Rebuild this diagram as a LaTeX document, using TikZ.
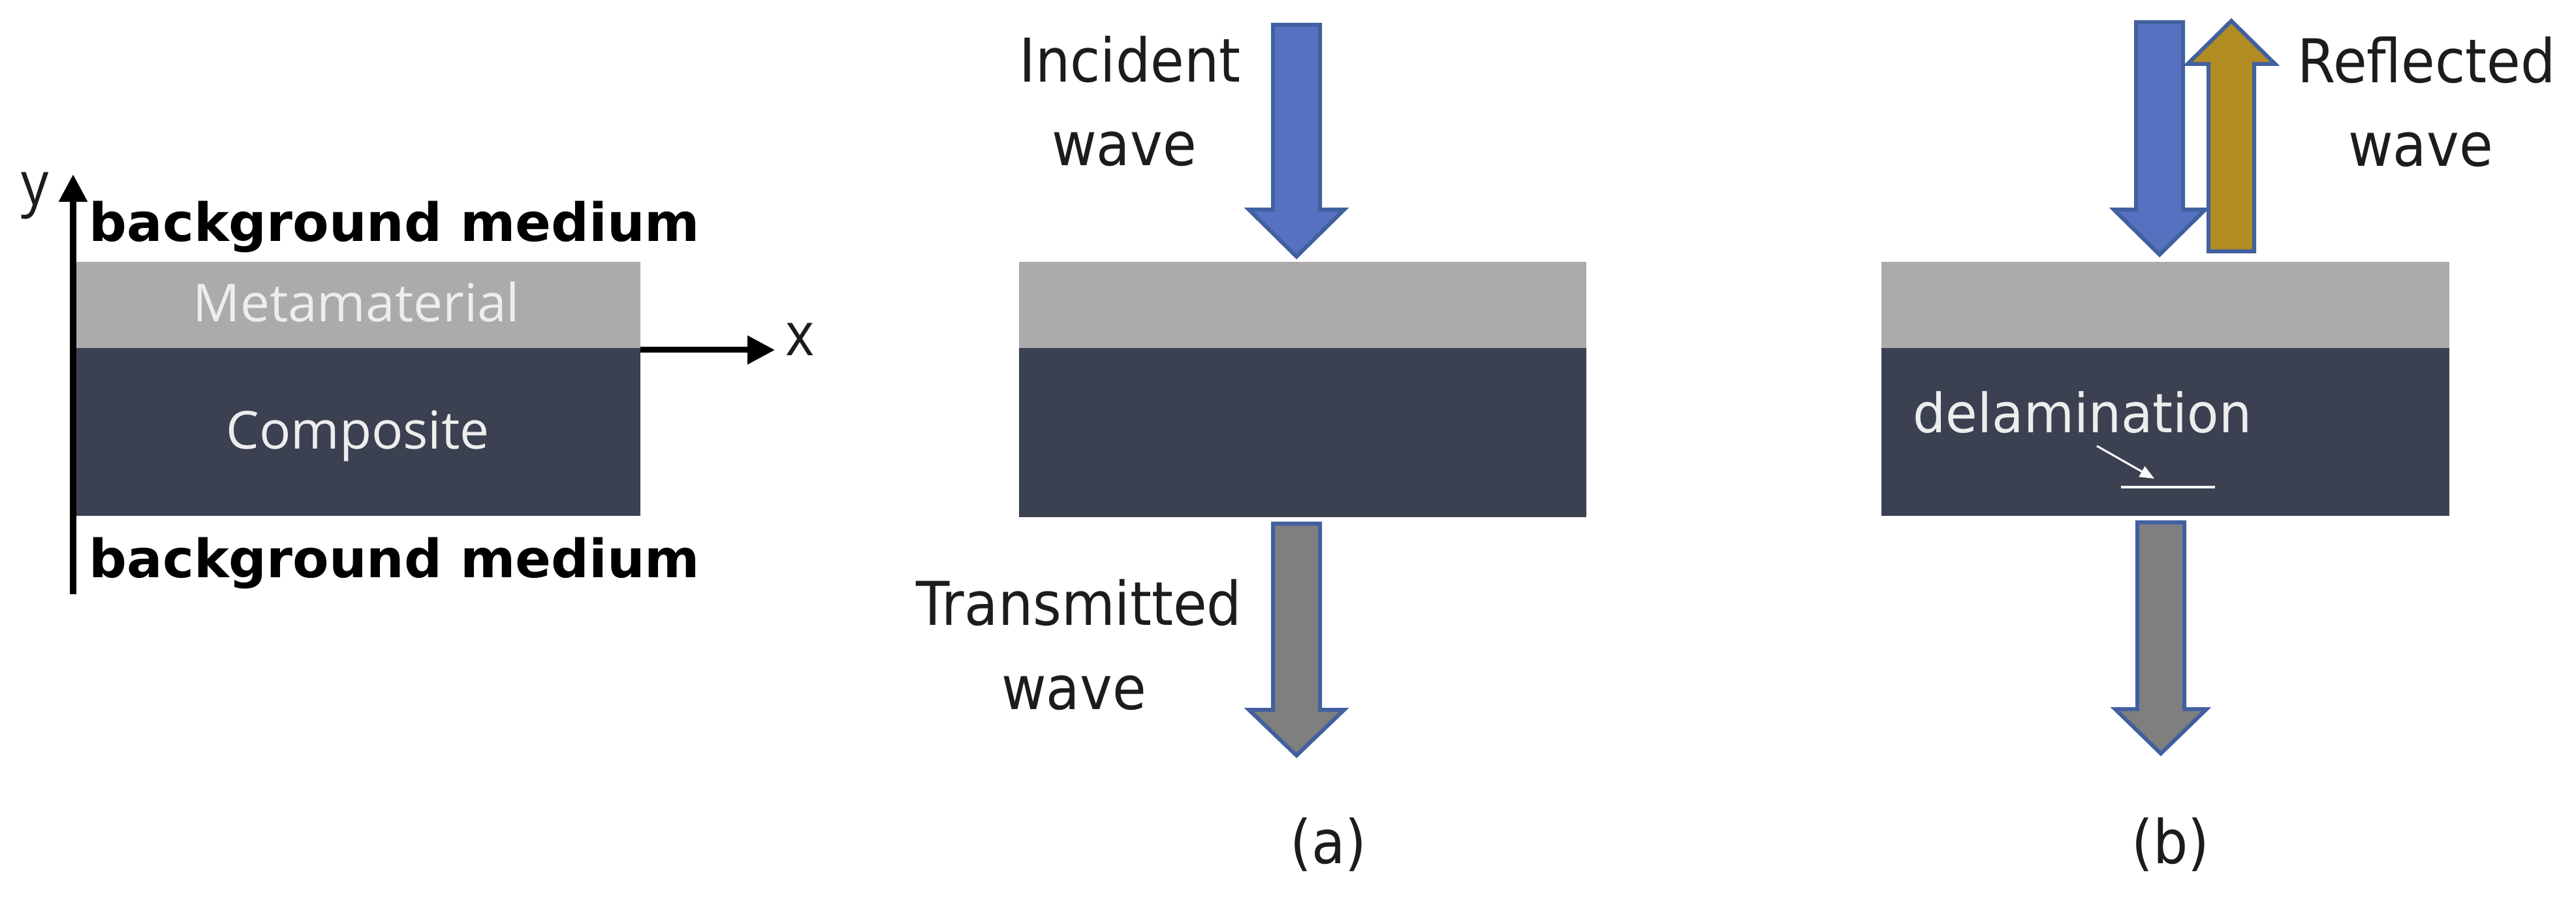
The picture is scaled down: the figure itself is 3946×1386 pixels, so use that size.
\documentclass[tikz,border=0pt]{standalone}
\usepackage{fontspec}
\setmainfont{DejaVu Sans}
\newfontfamily\osans{Open Sans}
\usetikzlibrary{arrows.meta}
\definecolor{metagray}{HTML}{ABABAB}
\definecolor{compdark}{HTML}{3B4151}
\definecolor{wblue}{HTML}{5571C0}
\definecolor{wedge}{HTML}{41609F}
\definecolor{wgold}{HTML}{B08C23}
\definecolor{wgray}{HTML}{7F7F7F}
\definecolor{lighttxt}{HTML}{EDEDED}
\definecolor{darktxt}{HTML}{1C1C1C}
\newcommand\vstr[1]{\scalebox{1}[1.1]{#1}}
\begin{document}
\begin{tikzpicture}[x=0.01cm,y=-0.01cm,
  lbl/.style={inner sep=0pt, anchor=base, text=darktxt, font=\fontsize{23.9pt}{28pt}\selectfont},
  axlbl/.style={inner sep=0pt, anchor=base, text=darktxt, font=\osans\fontsize{23.9pt}{28pt}\selectfont},
  bglbl/.style={inner sep=0pt, anchor=base west, text=black, font=\bfseries\fontsize{23pt}{28pt}\selectfont},
  layerlbl/.style={inner sep=0pt, anchor=base, text=lighttxt, font=\osans\fontsize{22.8pt}{28pt}\selectfont},
  delamlbl/.style={inner sep=0pt, anchor=base west, text=lighttxt, font=\fontsize{22.5pt}{28pt}\selectfont},
  axis/.style={line width=0.09cm, black, -{Triangle[length=0.42cm,width=0.42cm]}},
  meta/.style={fill=metagray},
  comp/.style={fill=compdark},
  blockarrow/.style={draw=wedge, line width=0.06cm, line join=miter},
  pointer/.style={draw=white, line width=0.03cm, -{Triangle[length=0.22cm,width=0.18cm]}},
  crack/.style={draw=white, line width=0.04cm}
]
\useasboundingbox (0,0) rectangle (3946,1386);
\fill[white] (0,0) rectangle (3946,1386);

% ---------- left panel ----------
\coordinate (xO) at (112,536);
\coordinate (xT) at (1187,536);
\draw[axis] (xO) -- (xT);
\fill[meta] (112,401) rectangle (981,533);
\fill[comp] (112,533) rectangle (981,790);
\coordinate (yB) at (112,910);
\coordinate (yT) at (112,267);
\draw[axis] (yB) -- (yT);
\node[axlbl] (ylab) at (54,314) {\vstr{y}};
\node[axlbl] (xlab) at (1225,545) {\vstr{x}};
\node[bglbl] (bgtop) at (136,370) {background medium};
\node[bglbl] (bgbot) at (136,884) {background medium};
\node[layerlbl] (metatxt) at (546,493) {Metamaterial};
\node[layerlbl] (comptxt) at (548,688) {Composite};

% ---------- panel (a) ----------
\fill[meta] (1561,401) rectangle (2430,533);
\fill[comp] (1561,533) rectangle (2430,792);
\path[blockarrow, fill=wblue] (1950,38) -- (2022,38) -- (2022,321) -- (2059,321) -- (1986,393) -- (1913,321) -- (1950,321) -- cycle;
\path[blockarrow, fill=wgray] (1950,802) -- (2022,802) -- (2022,1087) -- (2059,1087) -- (1986,1157) -- (1913,1087) -- (1950,1087) -- cycle;
\node[lbl] (inc1) at (1731,126) {\vstr{Incident}};
\node[lbl] (inc2) at (1722,254) {\vstr{wave}};
\node[lbl] (tra1) at (1653,957) {\vstr{Transmitted}};
\node[lbl] (tra2) at (1645,1086) {\vstr{wave}};
\node[lbl] (capa) at (2035,1322) {\vstr{(a)}};

% ---------- panel (b) ----------
\fill[meta] (2882,401) rectangle (3752,533);
\fill[comp] (2882,533) rectangle (3752,790);
\path[blockarrow, fill=wblue] (3272,34) -- (3344,34) -- (3344,321) -- (3378,321) -- (3308,390) -- (3238,321) -- (3272,321) -- cycle;
\path[blockarrow, fill=wgold] (3383,385) -- (3453,385) -- (3453,98) -- (3485,98) -- (3418,32) -- (3351,98) -- (3383,98) -- cycle;
\path[blockarrow, fill=wgray] (3274,800) -- (3346,800) -- (3346,1086) -- (3380,1086) -- (3310,1154) -- (3240,1086) -- (3274,1086) -- cycle;
\node[lbl] (ref1) at (3717,127) {\vstr{Reflected}};
\node[lbl] (ref2) at (3708,255) {\vstr{wave}};
\node[delamlbl] (delam) at (2930,663) {\scalebox{1}[1.05]{delamination}};
\coordinate (dpS) at (3212,683);
\coordinate (dpE) at (3300,733);
\draw[pointer] (dpS) -- (dpE);
\coordinate (crA) at (3249,746);
\coordinate (crB) at (3393,746);
\draw[crack] (crA) -- (crB);
\node[lbl] (capb) at (3325,1322) {\vstr{(b)}};
\end{tikzpicture}
\end{document}
